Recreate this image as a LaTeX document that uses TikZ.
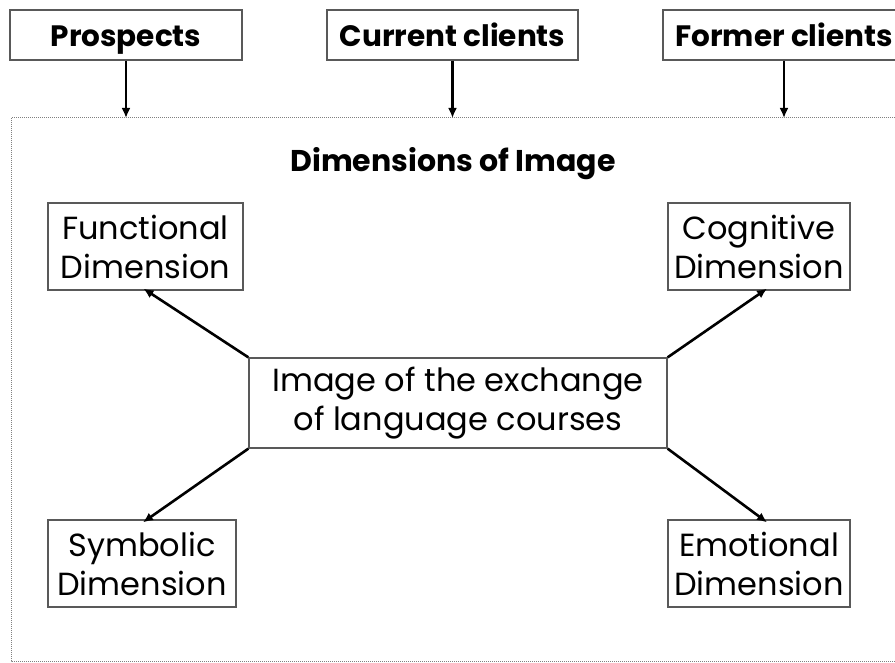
\documentclass[tikz,border=0pt]{standalone}
\usepackage{fontspec}
\setmainfont{Poppins}
\usetikzlibrary{arrows.meta}

\begin{document}
\begin{tikzpicture}[x=1pt,y=-1pt,
    topbox/.style={draw=gray!70!black, line width=1.3pt, fill=white, inner sep=0pt,
                   text height=23pt, text depth=0pt,
                   font=\fontsize{29.5}{32}\selectfont\bfseries},
    dimbox/.style={draw=gray!70!black, line width=1.3pt, fill=white, inner sep=0pt,
                   align=center, font=\fontsize{32}{39}\selectfont},
    arr/.style={-{Latex[length=10pt,width=9pt]}, line width=2.6pt}]
        \useasboundingbox (0,0) rectangle (895,663);
        \clip (0,0) rectangle (895,663);
        % frame round the dimensions
        \draw[gray, densely dotted, line width=1pt] (11,118) rectangle (905,661);
        \coordinate (ftop) at (0,118);
        % sources
        \node[topbox, minimum width=232pt, minimum height=50pt] (pros) at (126,35)   {Prospects};
        \node[topbox, minimum width=251pt, minimum height=50pt] (curr) at (452.5,35) {Current clients};
        \node[topbox, minimum width=242pt, minimum height=50pt] (form) at (784,35)   {Former clients};
        \draw[arr] (pros.south) -- (pros.south |- ftop);
        \draw[arr] (curr.south) -- (curr.south |- ftop);
        \draw[arr] (form.south) -- (form.south |- ftop);
        % dimensions
        \node[font=\fontsize{30}{32}\selectfont\bfseries] (title) at (453,164) {Dimensions of Image};
        \node[dimbox, minimum width=418pt, minimum height=90pt] (img) at (458,403)
            {Image of the exchange\\of language courses};
        \node[dimbox, minimum width=195pt, minimum height=87pt] (func) at (145.5,246.5) {Functional\\Dimension};
        \node[dimbox, minimum width=182pt, minimum height=87pt] (cogn) at (759,246.5)   {Cognitive\\Dimension};
        \node[dimbox, minimum width=188pt, minimum height=87pt] (symb) at (142,563.5)   {Symbolic\\Dimension};
        \node[dimbox, minimum width=182pt, minimum height=87pt] (emot) at (759,563.5)   {Emotional\\Dimension};
        \draw[arr] (img.north west) -- ([xshift=-2pt,yshift=2pt]func.south);
        \draw[arr] (img.north east) -- ([xshift=8pt,yshift=2pt]cogn.south);
        \draw[arr] (img.south west) -- ([xshift=1pt,yshift=-3pt]symb.north);
        \draw[arr] (img.south east) -- ([xshift=8pt,yshift=-3pt]emot.north);
    \end{tikzpicture}
\end{document}
